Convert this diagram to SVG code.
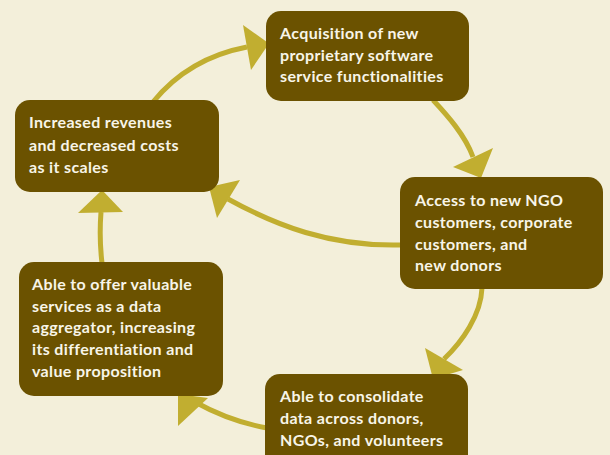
<svg xmlns="http://www.w3.org/2000/svg" width="610" height="455" viewBox="0 0 610 455">
<style>
.bg{fill:#F3EFDA}
.box{fill:#6B5200}
.lbl{font-family:Lato,"Liberation Sans",sans-serif;font-weight:bold;font-size:16px;letter-spacing:0.35px;fill:#F8F5E8}
.ln{fill:none;stroke:#C1AE30;stroke-width:5}
.ah{fill:#C1AE30}
</style>
<rect class="bg" x="0" y="0" width="610" height="455"/>
<g id="connectors">
<path class="ln" d="M153,102 C175,75 205,55 247,47"/>
<polygon class="ah" points="243,25 251,70 269,43.5"/>
<path class="ln" d="M433,100 C447,115 465,135 473,157"/>
<polygon class="ah" points="453,167 493,148 481,178"/>
<path class="ln" d="M482,288 C481,315 462,342 444,359"/>
<polygon class="ah" points="425,348 463,370 433,379"/>
<path class="ln" d="M267,428 C245,424 222,417 195,402"/>
<polygon class="ah" points="178,426 208,398 178,394"/>
<path class="ln" d="M102,263 Q99,238 101,212"/>
<polygon class="ah" points="78,213 123,212 102,190"/>
<path class="ln" d="M402,245 C330,247 275,225 228,199"/>
<polygon class="ah" points="240,180 217,218 209,187"/>
</g>
<g id="n1">
<rect class="box" x="266" y="11" width="203" height="90" rx="15"/>
<text class="lbl"><tspan x="280" y="39">Acquisition of new</tspan><tspan x="280" y="61">proprietary software</tspan><tspan x="280" y="82">service functionalities</tspan></text>
</g>
<g id="n2">
<rect class="box" x="400" y="177" width="203" height="112" rx="15"/>
<text class="lbl"><tspan x="415" y="206">Access to new NGO</tspan><tspan x="415" y="228">customers, corporate</tspan><tspan x="415" y="250">customers, and</tspan><tspan x="415" y="271">new donors</tspan></text>
</g>
<g id="n3">
<rect class="box" x="265" y="374" width="203" height="100" rx="15"/>
<text class="lbl"><tspan x="280" y="402">Able to consolidate</tspan><tspan x="280" y="424">data across donors,</tspan><tspan x="280" y="446">NGOs, and volunteers</tspan></text>
</g>
<g id="n4">
<rect class="box" x="19" y="262" width="204" height="134" rx="15"/>
<text class="lbl"><tspan x="32" y="290">Able to offer valuable</tspan><tspan x="32" y="312">services as a data</tspan><tspan x="32" y="333">aggregator, increasing</tspan><tspan x="32" y="355">its differentiation and</tspan><tspan x="32" y="377">value proposition</tspan></text>
</g>
<g id="n5">
<rect class="box" x="15" y="100" width="204" height="92" rx="15"/>
<text class="lbl"><tspan x="29" y="128">Increased revenues</tspan><tspan x="29" y="151">and decreased costs</tspan><tspan x="29" y="173">as it scales</tspan></text>
</g>
</svg>
